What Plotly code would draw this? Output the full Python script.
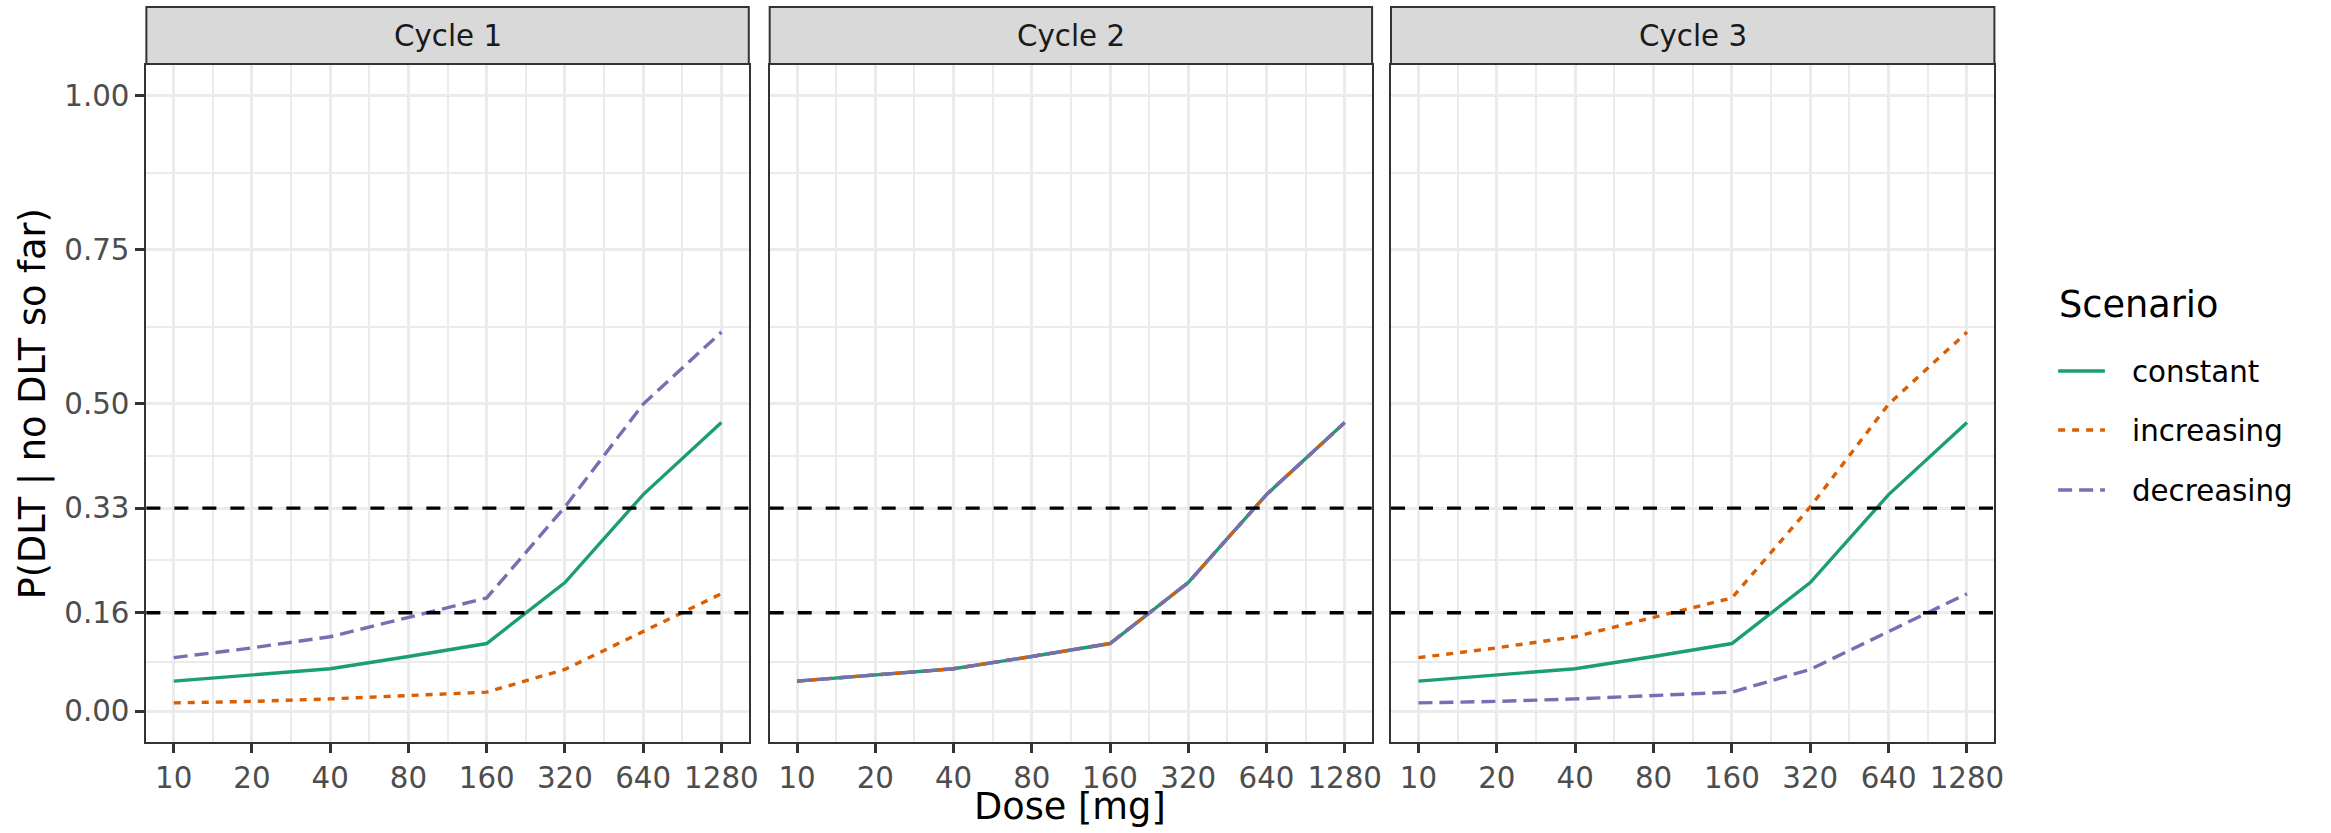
import plotly.graph_objects as go
import math

W, H = 2331, 833

doses = [10, 20, 40, 80, 160, 320, 640, 1280]
dose_labels = ["10", "20", "40", "80", "160", "320", "640", "1280"]
cycles = ["Cycle 1", "Cycle 2", "Cycle 3"]
scenarios = ["constant", "increasing", "decreasing"]

# P(DLT | no DLT so far) per scenario and cycle
constant_c1 = [0.049, 0.059, 0.069, 0.089, 0.110, 0.209, 0.352, 0.469]
increasing_c1 = [0.0135, 0.016, 0.020, 0.025, 0.031, 0.068, 0.129, 0.191]
decreasing_c1 = [0.087, 0.103, 0.121, 0.153, 0.184, 0.332, 0.499, 0.616]

constant_c2 = [0.049, 0.059, 0.069, 0.089, 0.110, 0.209, 0.352, 0.469]
increasing_c2 = [0.049, 0.059, 0.069, 0.089, 0.110, 0.209, 0.352, 0.469]
decreasing_c2 = [0.049, 0.059, 0.069, 0.089, 0.110, 0.209, 0.352, 0.469]

constant_c3 = [0.049, 0.059, 0.069, 0.089, 0.110, 0.209, 0.352, 0.469]
increasing_c3 = [0.087, 0.103, 0.121, 0.153, 0.184, 0.332, 0.499, 0.616]
decreasing_c3 = [0.0135, 0.016, 0.020, 0.025, 0.031, 0.068, 0.129, 0.191]

y_ticks = [0.0, 0.16, 0.33, 0.50, 0.75, 1.00]
y_tick_labels = ["0.00", "0.16", "0.33", "0.50", "0.75", "1.00"]
thresholds = [0.16, 0.33]

data = {
    "Cycle 1": {"constant": constant_c1, "increasing": increasing_c1, "decreasing": decreasing_c1},
    "Cycle 2": {"constant": constant_c2, "increasing": increasing_c2, "decreasing": decreasing_c2},
    "Cycle 3": {"constant": constant_c3, "increasing": increasing_c3, "decreasing": decreasing_c3},
}

colors = {"constant": "#1B9E77", "increasing": "#D95F02", "decreasing": "#7570B3"}
dashes = {"constant": "solid", "increasing": "7px,7px", "decreasing": "14px,7px"}

FONT = "DejaVu Sans"
LW = 3.4

# panel pixel geometry
panels_px = [(147, 752), (773, 1378), (1397, 2003)]
top_px, bot_px = 65, 742
strip_top_px = 7

# legend geometry (pixels)
leg_key_x = (2067, 2114)
leg_text_x = 2139
leg_title_pos = (2066, 305)
leg_rows_y = [371, 430, 490]


def px_x(v):
    return v / W


def px_y(v):
    return 1 - v / H


lo = math.log10(doses[0]) - 0.35 * math.log10(2)
hi = math.log10(doses[-1]) + 0.35 * math.log10(2)
x_minor = [doses[i] * math.sqrt(2) for i in range(len(doses) - 1)]
y_minor = [(y_ticks[i] + y_ticks[i + 1]) / 2 for i in range(len(y_ticks) - 1)]

fig = go.Figure()

for ci, cyc in enumerate(cycles):
    xa = "x" if ci == 0 else f"x{ci+1}"
    ya = "y" if ci == 0 else f"y{ci+1}"
    for s in scenarios:
        fig.add_trace(go.Scatter(
            x=doses, y=data[cyc][s], mode="lines", name=s,
            legendgroup=s, showlegend=False,
            line=dict(color=colors[s], width=LW, dash=dashes[s]),
            xaxis=xa, yaxis=ya,
        ))

layout = dict(
    width=W, height=H,
    margin=dict(l=0, r=0, t=0, b=0),
    paper_bgcolor="white", plot_bgcolor="white",
    font=dict(family=FONT, color="#4D4D4D"),
    showlegend=False,
)

shapes = []
annotations = []
for ci, (x0, x1) in enumerate(panels_px):
    suffix = "" if ci == 0 else str(ci + 1)
    layout["xaxis" + suffix] = dict(
        domain=[px_x(x0), px_x(x1)], type="log", range=[lo, hi],
        anchor="y" + suffix,
        tickmode="array", tickvals=doses, ticktext=dose_labels,
        ticks="outside", ticklen=9, tickwidth=2.7, tickcolor="#333333",
        tickfont=dict(size=29.3, color="#4D4D4D", family=FONT),
        showgrid=True, gridcolor="#EBEBEB", gridwidth=3.3,
        minor=dict(tickmode="array", tickvals=x_minor, showgrid=True,
                   gridcolor="#EBEBEB", gridwidth=1.8, ticks=""),
        showline=True, linecolor="#333333", linewidth=2, mirror=True,
        zeroline=False, fixedrange=True,
    )
    layout["yaxis" + suffix] = dict(
        domain=[px_y(bot_px), px_y(top_px)], range=[-0.05, 1.05],
        anchor="x" + suffix,
        tickmode="array", tickvals=y_ticks, ticktext=y_tick_labels,
        showticklabels=(ci == 0),
        ticks="outside" if ci == 0 else "", ticklen=9, tickwidth=2.7, tickcolor="#333333",
        tickfont=dict(size=29.3, color="#4D4D4D", family=FONT),
        showgrid=True, gridcolor="#EBEBEB", gridwidth=3.3,
        minor=dict(tickmode="array", tickvals=y_minor, showgrid=True,
                   gridcolor="#EBEBEB", gridwidth=1.8, ticks=""),
        showline=True, linecolor="#333333", linewidth=2, mirror=True,
        zeroline=False, fixedrange=True,
    )
    for t in thresholds:
        shapes.append(dict(
            type="line", xref=f"x{suffix} domain", yref=f"y{suffix}",
            x0=0, x1=1, y0=t, y1=t, layer="above",
            line=dict(color="black", width=LW, dash="14px,14px"),
        ))
    # strip
    shapes.append(dict(
        type="rect", xref="paper", yref="paper",
        x0=px_x(x0), x1=px_x(x1), y0=px_y(top_px - 1), y1=px_y(strip_top_px),
        fillcolor="#D9D9D9", line=dict(color="#333333", width=2), layer="above",
    ))
    annotations.append(dict(
        text=cycles[ci], xref="paper", yref="paper",
        x=px_x((x0 + x1) / 2), y=px_y((strip_top_px + top_px) / 2),
        xanchor="center", yanchor="middle", showarrow=False,
        font=dict(size=29.3, color="#1A1A1A", family=FONT),
    ))

# legend (keys + labels)
for s, ry in zip(scenarios, leg_rows_y):
    shapes.append(dict(
        type="line", xref="paper", yref="paper",
        x0=px_x(leg_key_x[0]), x1=px_x(leg_key_x[1]), y0=px_y(ry), y1=px_y(ry),
        line=dict(color=colors[s], width=LW, dash=dashes[s]),
    ))
    annotations.append(dict(
        text=s, xref="paper", yref="paper",
        x=px_x(leg_text_x), y=px_y(ry + 1),
        xanchor="left", yanchor="middle", showarrow=False,
        font=dict(size=29.3, color="black", family=FONT),
    ))
annotations.append(dict(
    text="Scenario", xref="paper", yref="paper",
    x=px_x(leg_title_pos[0]), y=px_y(leg_title_pos[1]),
    xanchor="left", yanchor="middle", showarrow=False,
    font=dict(size=36.7, color="black", family=FONT),
))

annotations.append(dict(
    text="Dose [mg]", xref="paper", yref="paper",
    x=px_x((panels_px[0][0] + panels_px[2][1]) / 2), y=px_y(806),
    xanchor="center", yanchor="middle", showarrow=False,
    font=dict(size=36.7, color="black", family=FONT),
))
annotations.append(dict(
    text="P(DLT | no DLT so far)", xref="paper", yref="paper",
    x=px_x(33), y=px_y((top_px + bot_px) / 2), textangle=-90,
    xanchor="center", yanchor="middle", showarrow=False,
    font=dict(size=36.7, color="black", family=FONT),
))

layout["shapes"] = shapes
layout["annotations"] = annotations
fig.update_layout(**layout)

fig.write_html(
    "out.html",
    config={"displayModeBar": False},
    post_script="document.body.style.margin='0';document.body.style.overflow='hidden';",
)
